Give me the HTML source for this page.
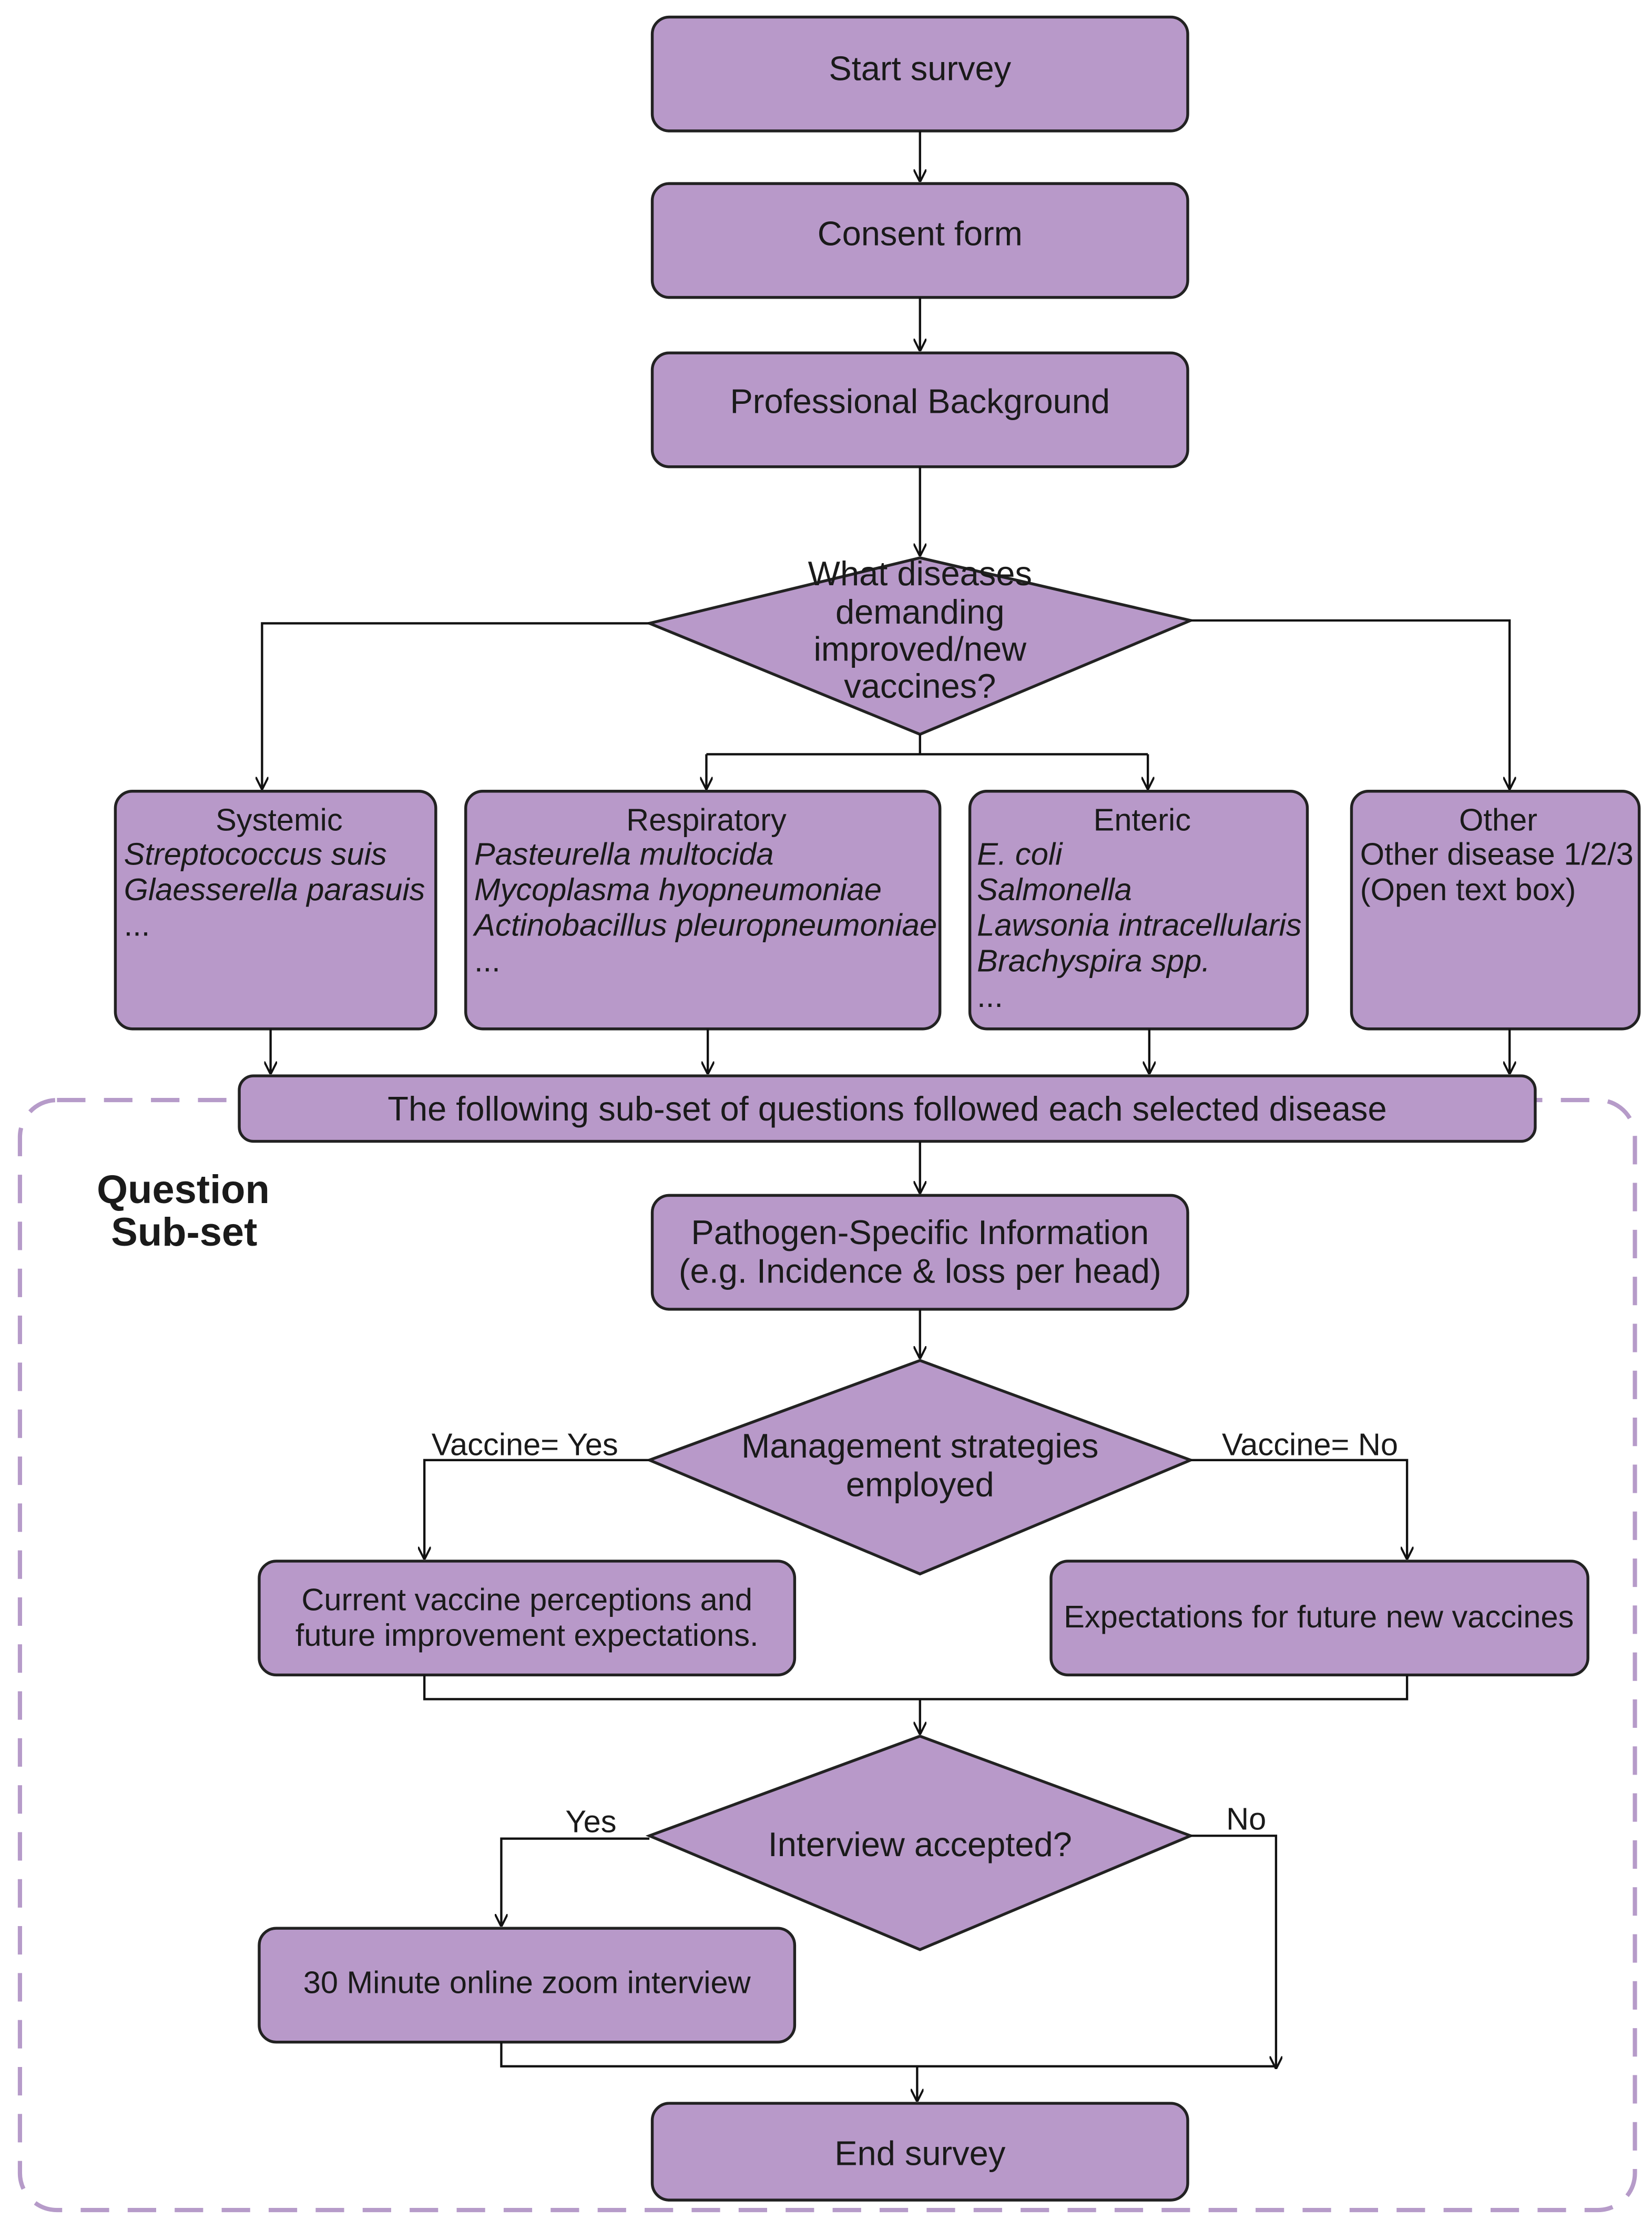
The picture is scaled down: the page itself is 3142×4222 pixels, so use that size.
<!DOCTYPE html>
<html><head><meta charset="utf-8">
<style>
html,body{margin:0;padding:0;background:#fff;}
svg{display:block;}
text{font-family:"Liberation Sans",sans-serif;fill:#1a1a1a;}
</style></head>
<body>
<svg width="3142" height="4222" viewBox="0 0 1160 1560" preserveAspectRatio="none" xmlns="http://www.w3.org/2000/svg">
<defs>
<marker id="a" viewBox="0 0 10 10" refX="9" refY="5" markerWidth="9" markerHeight="9" orient="auto" markerUnits="userSpaceOnUse">
<path d="M0,0 L10,5 L0,10" fill="none" stroke="#111" stroke-width="1.6"/>
</marker>
</defs>
<rect x="14" y="773" width="1134" height="780" rx="26" fill="none" stroke="#b69bc9" stroke-width="3" stroke-dasharray="20 13"/>
<g fill="#b899c9" stroke="#222" stroke-width="2">
<rect x="458" y="12" width="376" height="80" rx="12"/>
<rect x="458" y="129" width="376" height="80" rx="12"/>
<rect x="458" y="248" width="376" height="80" rx="12"/>
<polygon points="646,392 836,436 646,516 456,438"/>
<rect x="81" y="556" width="225" height="167" rx="12"/>
<rect x="327" y="556" width="333" height="167" rx="12"/>
<rect x="681" y="556" width="237" height="167" rx="12"/>
<rect x="949" y="556" width="202" height="167" rx="12"/>
<rect x="168" y="756" width="910" height="46" rx="10"/>
<rect x="458" y="840" width="376" height="80" rx="12"/>
<polygon points="646,956 836,1026 646,1106 456,1026"/>
<rect x="182" y="1097" width="376" height="80" rx="12"/>
<rect x="738" y="1097" width="377" height="80" rx="12"/>
<polygon points="646,1220 836,1290 646,1370 456,1290"/>
<rect x="182" y="1355" width="376" height="80" rx="12"/>
<rect x="458" y="1478" width="376" height="68" rx="12"/>
</g>
<g fill="none" stroke="#111" stroke-width="1.6">
<path d="M646,92 V127" marker-end="url(#a)"/>
<path d="M646,209 V246" marker-end="url(#a)"/>
<path d="M646,328 V390" marker-end="url(#a)"/>
<path d="M456,438 H184 V554" marker-end="url(#a)"/>
<path d="M836,436 H1060 V554" marker-end="url(#a)"/>
<path d="M646,516 V530"/>
<path d="M496,530 H806"/>
<path d="M496,530 V554" marker-end="url(#a)"/>
<path d="M806,530 V554" marker-end="url(#a)"/>
<path d="M190,723 V754" marker-end="url(#a)"/>
<path d="M497,723 V754" marker-end="url(#a)"/>
<path d="M807,723 V754" marker-end="url(#a)"/>
<path d="M1060,723 V754" marker-end="url(#a)"/>
<path d="M646,802 V838" marker-end="url(#a)"/>
<path d="M646,920 V954" marker-end="url(#a)"/>
<path d="M456,1026 H298 V1095" marker-end="url(#a)"/>
<path d="M836,1026 H988 V1095" marker-end="url(#a)"/>
<path d="M298,1177 V1194 H988 V1177"/>
<path d="M646,1194 V1218" marker-end="url(#a)"/>
<path d="M456,1292 H352 V1353" marker-end="url(#a)"/>
<path d="M836,1290 H896 V1453" marker-end="url(#a)"/>
<path d="M352,1435 V1452 H896"/>
<path d="M644,1452 V1476" marker-end="url(#a)"/>
</g>
<g font-size="24" text-anchor="middle" dominant-baseline="central">
<text x="646" y="48">Start survey</text>
<text x="646" y="164">Consent form</text>
<text x="646" y="282">Professional Background</text>
<text x="646" y="403">What diseases</text>
<text x="646" y="430">demanding</text>
<text x="646" y="456">improved/new</text>
<text x="646" y="482">vaccines?</text>
<text x="196" y="576" font-size="22">Systemic</text>
<text x="496" y="576" font-size="22">Respiratory</text>
<text x="802" y="576" font-size="22">Enteric</text>
<text x="1052" y="576" font-size="22">Other</text>
<text x="623" y="779">The following sub-set of questions followed each selected disease</text>
<text x="646" y="866">Pathogen-Specific Information</text>
<text x="646" y="893">(e.g. Incidence &amp; loss per head)</text>
<text x="646" y="1016">Management strategies</text>
<text x="646" y="1043">employed</text>
<text x="370" y="1124" font-size="22">Current vaccine perceptions and</text>
<text x="370" y="1149" font-size="22">future improvement expectations.</text>
<text x="926" y="1136" font-size="22">Expectations for future new vaccines</text>
<text x="646" y="1296">Interview accepted?</text>
<text x="370" y="1393" font-size="22">30 Minute online zoom interview</text>
<text x="646" y="1513">End survey</text>
</g>
<g font-size="22" dominant-baseline="central">
<text x="87" y="600" font-style="italic">Streptococcus suis</text>
<text x="87" y="625" font-style="italic">Glaesserella parasuis</text>
<text x="87" y="650">...</text>
<text x="333" y="600" font-style="italic">Pasteurella multocida</text>
<text x="333" y="625" font-style="italic">Mycoplasma hyopneumoniae</text>
<text x="333" y="650" font-style="italic" textLength="325" lengthAdjust="spacingAndGlyphs">Actinobacillus pleuropneumoniae</text>
<text x="333" y="675">...</text>
<text x="686" y="600" font-style="italic">E. coli</text>
<text x="686" y="625" font-style="italic">Salmonella</text>
<text x="686" y="650" font-style="italic" textLength="228" lengthAdjust="spacingAndGlyphs">Lawsonia intracellularis</text>
<text x="686" y="675" font-style="italic">Brachyspira spp.</text>
<text x="686" y="700">...</text>
<text x="955" y="600" textLength="192" lengthAdjust="spacingAndGlyphs">Other disease 1/2/3</text>
<text x="955" y="625">(Open text box)</text>
<text x="303" y="1015">Vaccine= Yes</text>
<text x="858" y="1015">Vaccine= No</text>
<text x="397" y="1280">Yes</text>
<text x="861" y="1278">No</text>
<text x="68" y="836" font-size="28" font-weight="bold">Question</text>
<text x="78" y="866" font-size="28" font-weight="bold">Sub-set</text>
</g>
</svg>
</body></html>
